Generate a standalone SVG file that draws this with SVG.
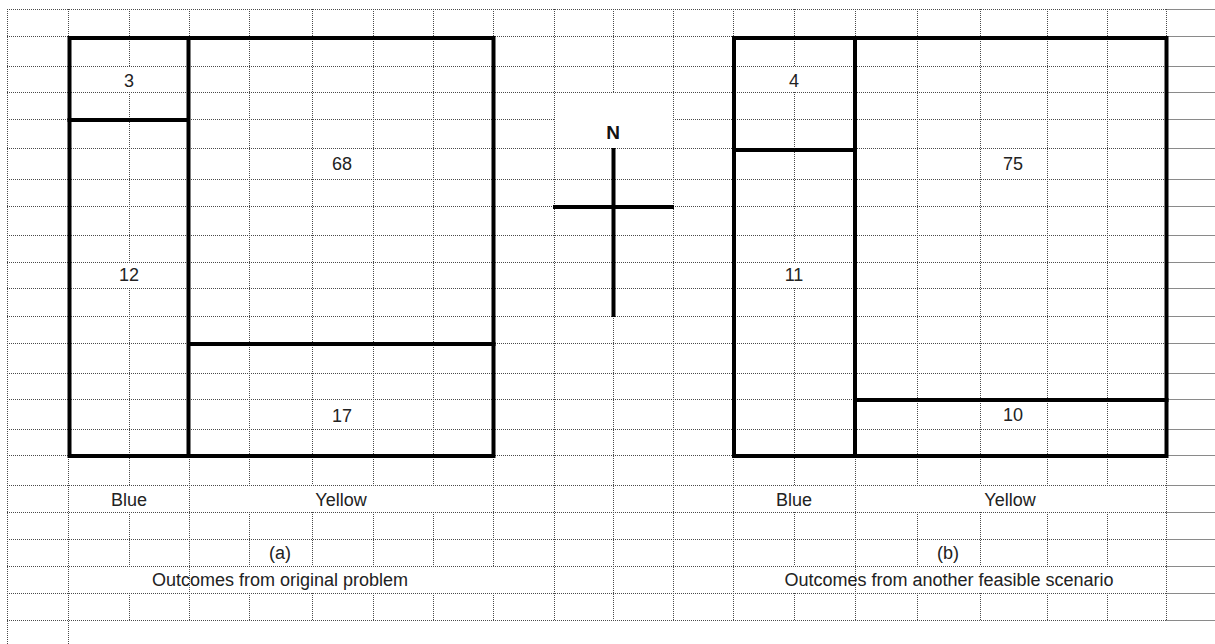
<svg xmlns="http://www.w3.org/2000/svg" width="1215" height="644" viewBox="0 0 1215 644">
<style>
.grid{fill:none;stroke:#4a4a4a;stroke-width:1;stroke-dasharray:1 1}
.gridr{fill:none;stroke:#8a8a8a;stroke-width:1}
.thick{fill:none;stroke:#000;stroke-width:4;stroke-linecap:square}
.t{font-family:"Liberation Sans",Arial,sans-serif;font-size:18px;fill:#222;text-anchor:middle}
.n{font-family:"Liberation Sans",Arial,sans-serif;font-size:19px;font-weight:bold;fill:#111;text-anchor:middle}
</style>
<rect width="1215" height="644" fill="#fff"/>
<g id="grid">
<path class="grid" d="M7 9.5H1166M7 36.5H1166M7 66.5H1166M7 92.5H1166M7 119.5H554M673 119.5H1166M7 148.5H1166M7 179.5H1166M7 206.5H1166M7 235.5H1166M7 262.5H1166M7 288.5H1166M7 316.5H1166M7 343.5H1166M7 373.5H1166M7 399.5H1166M7 429.5H1166M7 455.5H1166M7 485.5H1166M7 512.5H1166M7 539.5H1166M7 566.5H1166M7 593.5H1166M7 620.5H1166"/>
<path class="gridr" d="M1166 9.5H1215M1166 36.5H1215M1166 66.5H1215M1166 92.5H1215M1166 119.5H1215M1166 148.5H1215M1166 179.5H1215M1166 206.5H1215M1166 235.5H1215M1166 262.5H1215M1166 288.5H1215M1166 316.5H1215M1166 343.5H1215M1166 373.5H1215M1166 399.5H1215M1166 429.5H1215M1166 455.5H1215M1166 485.5H1215M1166 512.5H1215M1166 539.5H1215M1166 566.5H1215M1166 593.5H1215M1166 620.5H1215"/>
<path class="grid" d="M7.5 9V644M68.5 9V644
M129.5 9V66M129.5 92V262M129.5 288V485M129.5 512V566M129.5 593V620
M189.5 9V620
M249.5 9V485M249.5 512V566M249.5 593V620
M312.5 9V485M312.5 512V566M312.5 593V620
M373.5 9V485M373.5 512V566M373.5 593V620
M433.5 9V485M433.5 512V566M433.5 593V620
M493.5 9V566M493.5 593V620
M554.5 9V620
M613.5 9V92M613.5 148V620
M673.5 9V620
M733.5 9V620
M794.5 9V66M794.5 92V262M794.5 288V485M794.5 512V566M794.5 593V620
M855.5 9V620
M917.5 9V485M917.5 512V566M917.5 593V620
M980.5 9V485M980.5 512V566M980.5 593V620
M1047.5 9V485M1047.5 512V566M1047.5 593V620
M1107.5 9V485M1107.5 512V566M1107.5 593V620
M1166.5 9V620"/>
</g>
<g id="box-a">
<rect class="thick" x="69.5" y="38" width="424" height="418"/>
<path class="thick" d="M188.5 38V456M69.5 120H188.5M188.5 344H493.5"/>
<text class="t" x="129" y="87">3</text>
<text class="t" x="129" y="281">12</text>
<text class="t" x="342" y="170">68</text>
<text class="t" x="342" y="422">17</text>
</g>
<g id="box-b">
<rect class="thick" x="734" y="38" width="432.5" height="418"/>
<path class="thick" d="M855 38V456M734 150H855M855 400H1166.5"/>
<text class="t" x="794" y="87">4</text>
<text class="t" x="794" y="281">11</text>
<text class="t" x="1013" y="170">75</text>
<text class="t" x="1013" y="421">10</text>
</g>
<g id="compass">
<path class="thick" d="M613.5 150V315M555 207H672" stroke-linecap="butt"/>
<text class="n" x="613" y="139">N</text>
</g>
<g id="labels-a">
<text class="t" x="129" y="506">Blue</text>
<text class="t" x="341" y="506">Yellow</text>
<text class="t" x="280" y="559">(a)</text>
<text class="t" x="280" y="586">Outcomes from original problem</text>
</g>
<g id="labels-b">
<text class="t" x="794" y="506">Blue</text>
<text class="t" x="1010" y="506">Yellow</text>
<text class="t" x="948" y="559">(b)</text>
<text class="t" x="949" y="586">Outcomes from another feasible scenario</text>
</g>
<g id="connectors"></g>
</svg>
